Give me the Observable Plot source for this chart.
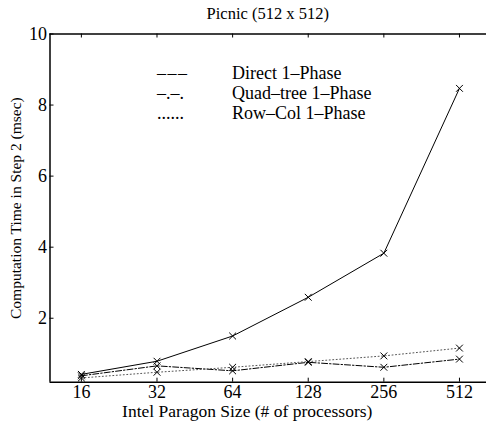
<!DOCTYPE html>
<html>
<head>
<meta charset="utf-8">
<script src="https://cdn.jsdelivr.net/npm/d3@7"></script>
<script src="https://cdn.jsdelivr.net/npm/@observablehq/plot@0.6"></script>
<style>
  html, body { margin: 0; padding: 0; background: #fff; }
  #wrap { position: relative; width: 486px; height: 426px; overflow: hidden; }
  #title { position: absolute; left: 49.5px; width: 436.5px; top: 4px; text-align: center;
           font-family: "Liberation Serif", serif; font-size: 16.5px; line-height: 19px; color: #000; }
  #chart { position: absolute; left: 0; top: 0; }
</style>
</head>
<body>
<div id="wrap">
  <div id="chart"></div>
  <div id="title"></div>
</div>
<script>
const processors = [16, 32, 64, 128, 256, 512];
const direct   = [0.42, 0.79, 1.50, 2.59, 3.83, 8.47];
const quadtree = [0.38, 0.66, 0.52, 0.76, 0.62, 0.85];
const rowcol   = [0.32, 0.48, 0.62, 0.78, 0.94, 1.16];
const yTicks = [2, 4, 6, 8, 10];
const seriesNames = ["Direct 1\u2013Phase", "Quad\u2013tree 1\u2013Phase", "Row\u2013Col 1\u2013Phase"];
const legendKeys = ["\u2013\u200A\u2013\u200A\u2013", "\u2013.\u2013.", "......"];
const titleText = "Picnic (512 x 512)";
const xLabel = "Intel Paragon Size (# of processors)";
const yLabel = "Computation Time in Step 2 (msec)";

const mk = (vals, name) => processors.map((p, i) => ({p, v: vals[i], name}));
const dDirect = mk(direct, seriesNames[0]);
const dQuad = mk(quadtree, seriesNames[1]);
const dRow = mk(rowcol, seriesNames[2]);

const xDomain = [12, 656];
const yDomain = [0.2, 10];

const W = 486, H = 426, ML = 49.5, MR = 0, MT = 33.5, MB = 44.3;
const plotW = W - ML - MR, plotH = H - MT - MB;
const T = 4; // inward tick length

const font = "Liberation Serif, Times New Roman, serif";

const legendMarks = [];
seriesNames.forEach((n, i) => {
  legendMarks.push(Plot.text([legendKeys[i]], {frameAnchor: "top-left", text: d => d, dx: 107, dy: 32.5 + i * 19.7, textAnchor: "start", fontSize: 18}));
  legendMarks.push(Plot.text([n], {frameAnchor: "top-left", text: d => d, dx: 182, dy: 32.5 + i * 19.7, textAnchor: "start", fontSize: 18}));
});

const plot = Plot.plot({
  width: W,
  height: H,
  marginLeft: ML,
  marginRight: MR,
  marginTop: MT,
  marginBottom: MB,
  style: {fontFamily: font, fontSize: "18px", color: "#000", background: "#fff", overflow: "visible"},
  x: {type: "log", base: 2, domain: xDomain},
  y: {domain: yDomain},
  marks: [
    Plot.axisX(processors, {anchor: "bottom", tickSize: 0, tickPadding: 3, tickFormat: d => String(d), label: null, fontSize: 18}),
    Plot.axisY(yTicks, {anchor: "left", tickSize: 0, tickPadding: 3, tickFormat: d => String(d), label: null, fontSize: 18}),
    Plot.text([xLabel], {frameAnchor: "bottom", lineAnchor: "middle", text: d => d, dx: -21, dy: 29.5, fontSize: 17.5}),
    Plot.axisY(yTicks, {anchor: "left", tickSize: 0, text: null, tickFormat: null,
      label: yLabel, labelAnchor: "center", labelArrow: "none", labelOffset: 40, fontSize: 15.5}),
    Plot.tickX(processors, {x: d => d, insetTop: plotH - T, stroke: "#000", strokeWidth: 1}),
    Plot.tickX(processors, {x: d => d, insetBottom: plotH - T, stroke: "#000", strokeWidth: 1}),
    Plot.tickY(yTicks, {y: d => d, insetRight: plotW - T, stroke: "#000", strokeWidth: 1}),
    Plot.ruleY([yDomain[0]], {stroke: "#000", strokeWidth: 1.5}),
    Plot.ruleY([yDomain[1]], {stroke: "#000", strokeWidth: 1.5}),
    Plot.ruleX([xDomain[0]], {stroke: "#000", strokeWidth: 1.5}),
    Plot.line(dDirect, {x: "p", y: "v", stroke: "#000", strokeWidth: 1}),
    Plot.line(dQuad, {x: "p", y: "v", stroke: "#000", strokeWidth: 1, strokeDasharray: "6,2,1.5,2"}),
    Plot.line(dRow, {x: "p", y: "v", stroke: "#555", strokeWidth: 1, strokeDasharray: "1,2.5"}),
    Plot.dot([...dDirect, ...dQuad, ...dRow], {x: "p", y: "v", symbol: "times", r: 3.2, stroke: "#000", strokeWidth: 1}),
    ...legendMarks
  ]
});
document.getElementById("chart").appendChild(plot);
document.getElementById("title").textContent = titleText;
</script>
</body>
</html>
